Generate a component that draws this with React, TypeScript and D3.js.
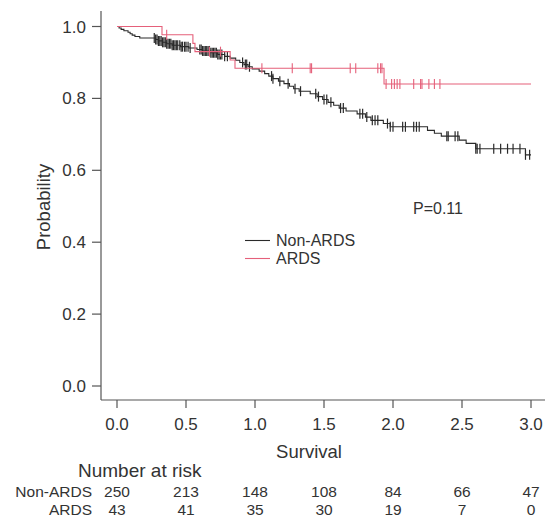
import React from "react";
import * as d3 from "d3";

// ---- Data ----
const xTicks = [0, 0.5, 1.0, 1.5, 2.0, 2.5, 3.0];
const yTicks = [0, 0.2, 0.4, 0.6, 0.8, 1.0];

// Non-ARDS step curve: time at which survival drops to value
const nonArdsTimes = [0, 0.015, 0.03, 0.05, 0.08, 0.095, 0.11, 0.13, 0.165, 0.28, 0.3, 0.33, 0.36, 0.4, 0.46, 0.52, 0.58, 0.62, 0.68, 0.73, 0.78, 0.82, 0.86, 0.89, 0.92, 0.95, 0.98, 1.03, 1.07, 1.1, 1.13, 1.17, 1.21, 1.25, 1.28, 1.32, 1.4, 1.45, 1.49, 1.53, 1.57, 1.61, 1.66, 1.74, 1.8, 1.84, 1.93, 1.98, 2.25, 2.3, 2.35, 2.48, 2.53, 2.6, 2.96];
const nonArdsSurv = [1.0, 0.996, 0.992, 0.988, 0.984, 0.98, 0.976, 0.972, 0.968, 0.964, 0.96, 0.956, 0.952, 0.948, 0.944, 0.94, 0.936, 0.932, 0.927, 0.922, 0.917, 0.912, 0.906, 0.9, 0.894, 0.888, 0.882, 0.876, 0.869, 0.862, 0.855, 0.848, 0.841, 0.834, 0.827, 0.82, 0.813, 0.805, 0.797, 0.789, 0.781, 0.773, 0.765, 0.757, 0.748, 0.739, 0.73, 0.721, 0.711, 0.703, 0.695, 0.684, 0.675, 0.66, 0.643];
const nonArdsCensor = [0.27, 0.28, 0.29, 0.3, 0.31, 0.32, 0.33, 0.34, 0.35, 0.36, 0.37, 0.38, 0.39, 0.4, 0.41, 0.42, 0.43, 0.44, 0.455, 0.465, 0.475, 0.49, 0.5, 0.515, 0.53, 0.6, 0.61, 0.62, 0.63, 0.64, 0.65, 0.66, 0.67, 0.68, 0.69, 0.7, 0.71, 0.72, 0.73, 0.74, 0.75, 0.76, 0.78, 0.8, 0.91, 0.93, 0.94, 0.96, 1.12, 1.13, 1.18, 1.24, 1.29, 1.33, 1.44, 1.46, 1.5, 1.52, 1.55, 1.62, 1.64, 1.76, 1.78, 1.81, 1.85, 1.87, 1.89, 1.96, 1.98, 2.0, 2.07, 2.09, 2.15, 2.17, 2.19, 2.39, 2.4, 2.45, 2.47, 2.6, 2.61, 2.63, 2.73, 2.78, 2.83, 2.87, 2.92, 2.96, 2.99];

// ARDS step curve
const ardsTimes = [0, 0.326, 0.55, 0.565, 0.82, 0.855, 1.935];
const ardsSurv = [1.0, 0.977, 0.953, 0.93, 0.907, 0.884, 0.84];
const ardsEnd = 3.0;
const nonArdsEnd = 3.0;
const ardsCensor = [0.36, 0.67, 0.75, 1.05, 1.27, 1.4, 1.41, 1.69, 1.73, 1.89, 1.91, 1.92, 1.95, 1.99, 2.01, 2.03, 2.05, 2.15, 2.2, 2.21, 2.26, 2.3, 2.34];

const riskTimes = [0, 0.5, 1.0, 1.5, 2.0, 2.5, 3.0];
const riskNonArds = [250, 213, 148, 108, 84, 66, 47];
const riskArds = [43, 41, 35, 30, 19, 7, 0];

const pText = "P=0.11";

// ---- Layout ----
const W = 545;
const H = 519;
const FONT = "'Liberation Sans', Arial, Helvetica, sans-serif";
const BLACK = "#2a2a2a";
const RED = "#e5607a";
const AXIS = "#555";
const TEXT = "#333";

const x = d3.scaleLinear().domain([0, 3]).range([117, 531]);
const y = d3.scaleLinear().domain([0, 1]).range([386, 26.5]);

function stepPath(times: number[], surv: number[], end: number): string {
  const pts: [number, number][] = [];
  for (let i = 0; i < times.length; i++) {
    if (i > 0) pts.push([times[i], surv[i - 1]]);
    pts.push([times[i], surv[i]]);
  }
  pts.push([end, surv[surv.length - 1]]);
  const line = d3
    .line<[number, number]>()
    .x((d) => x(d[0]))
    .y((d) => y(d[1]));
  return line(pts) || "";
}

function survAt(times: number[], surv: number[], t: number): number {
  let s = surv[0];
  for (let i = 0; i < times.length; i++) {
    if (times[i] <= t) s = surv[i];
  }
  return s;
}

export default function App() {
  const fmt = d3.format(".1f");
  return (
    <svg width={W} height={H} style={{ position: "absolute", left: 0, top: 0, background: "#fff" }} fontFamily={FONT}>
      {/* axes */}
      <line x1={101} x2={101} y1={11} y2={400} stroke={AXIS} strokeWidth={1.2} />
      <line x1={101} x2={545} y1={400} y2={400} stroke={AXIS} strokeWidth={1.2} />
      {yTicks.map((v) => (
        <g key={"y" + v}>
          <line x1={92} x2={101} y1={y(v)} y2={y(v)} stroke={AXIS} strokeWidth={1.2} />
          <text x={86} y={y(v) + 6} textAnchor="end" fontSize={17} fill={TEXT}>
            {fmt(v)}
          </text>
        </g>
      ))}
      {xTicks.map((v) => (
        <g key={"x" + v}>
          <line x1={x(v)} x2={x(v)} y1={400} y2={408} stroke={AXIS} strokeWidth={1.2} />
          <text x={x(v)} y={430} textAnchor="middle" fontSize={17} fill={TEXT}>
            {fmt(v)}
          </text>
        </g>
      ))}
      <text transform={`translate(50,207) rotate(-90)`} textAnchor="middle" fontSize={18.5} fill={TEXT}>
        Probability
      </text>
      <text x={309} y={458} textAnchor="middle" fontSize={18.5} fill={TEXT}>
        Survival
      </text>

      {/* curves */}
      <path d={stepPath(nonArdsTimes, nonArdsSurv, nonArdsEnd)} fill="none" stroke={BLACK} strokeWidth={1.1} />
      {nonArdsCensor.map((t, i) => {
        const cy = y(survAt(nonArdsTimes, nonArdsSurv, t));
        return <line key={"nc" + i} x1={x(t)} x2={x(t)} y1={cy - 5} y2={cy + 5} stroke={BLACK} strokeWidth={1.2} />;
      })}
      <path d={stepPath(ardsTimes, ardsSurv, ardsEnd)} fill="none" stroke={RED} strokeWidth={1.1} />
      {ardsCensor.map((t, i) => {
        const cy = y(survAt(ardsTimes, ardsSurv, t));
        return <line key={"ac" + i} x1={x(t)} x2={x(t)} y1={cy - 5} y2={cy + 5} stroke={RED} strokeWidth={1.1} />;
      })}

      {/* legend */}
      <line x1={245} x2={270} y1={240.5} y2={240.5} stroke={BLACK} strokeWidth={1.1} />
      <text x={276} y={246} fontSize={16} fill={TEXT}>Non-ARDS</text>
      <line x1={245} x2={270} y1={258.5} y2={258.5} stroke={RED} strokeWidth={1.1} />
      <text x={276} y={264} fontSize={16} fill={TEXT}>ARDS</text>

      <text x={413} y={214} fontSize={16} fill={TEXT}>{pText}</text>

      {/* risk table */}
      <text x={78} y={477} fontSize={19} fill={TEXT}>Number at risk</text>
      <text x={92} y={497} textAnchor="end" fontSize={15.5} fill={TEXT}>Non-ARDS</text>
      <text x={92} y={515} textAnchor="end" fontSize={15.5} fill={TEXT}>ARDS</text>
      {riskTimes.map((t, i) => (
        <g key={"r" + i}>
          <text x={x(t)} y={497} textAnchor="middle" fontSize={15.5} fill={TEXT}>{riskNonArds[i]}</text>
          <text x={x(t)} y={515} textAnchor="middle" fontSize={15.5} fill={TEXT}>{riskArds[i]}</text>
        </g>
      ))}
    </svg>
  );
}
